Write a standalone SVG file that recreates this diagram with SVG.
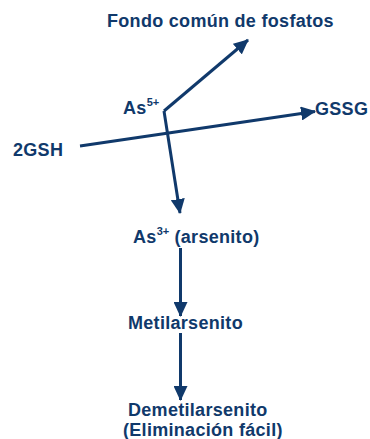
<svg xmlns="http://www.w3.org/2000/svg" width="370" height="439" viewBox="0 0 370 439">
<style>
text{font-family:"Liberation Sans",Arial,sans-serif;font-weight:bold;font-size:18px;fill:#10396b;letter-spacing:0.3px}
.sup{font-size:11px;letter-spacing:0}
.ln{stroke:#10396b;stroke-width:3;fill:none}
</style>
<defs>
<marker id="ah" markerUnits="userSpaceOnUse" markerWidth="16" markerHeight="14" refX="14" refY="7" orient="auto">
<path d="M0,0 L15,7 L0,14 Z" fill="#10396b"/>
</marker>
</defs>
<rect width="370" height="439" fill="#fff"/>
<g id="connectors">
<line class="ln" x1="164" y1="111" x2="248" y2="40" marker-end="url(#ah)"/>
<line class="ln" x1="164" y1="111" x2="180" y2="213" marker-end="url(#ah)"/>
<line class="ln" x1="80" y1="146" x2="315" y2="111.5" marker-end="url(#ah)"/>
<line class="ln" x1="180.5" y1="248" x2="180.5" y2="316" marker-end="url(#ah)"/>
<line class="ln" x1="180.5" y1="333" x2="180.5" y2="400" marker-end="url(#ah)"/>
</g>
<g id="fondo"><text x="107" y="27">Fondo común de fosfatos</text></g>
<g id="as5"><text x="123" y="114">As<tspan class="sup" dy="-8">5+</tspan></text></g>
<g id="gssg"><text x="315" y="115">GSSG</text></g>
<g id="gsh"><text x="13" y="156">2GSH</text></g>
<g id="as3"><text x="133" y="243">As<tspan class="sup" dy="-8">3+</tspan><tspan dy="8"> (arsenito)</tspan></text></g>
<g id="metil"><text x="128" y="329">Metilarsenito</text></g>
<g id="demetil"><text x="128" y="416">Demetilarsenito</text><text x="123" y="436">(Eliminación fácil)</text></g>
</svg>
